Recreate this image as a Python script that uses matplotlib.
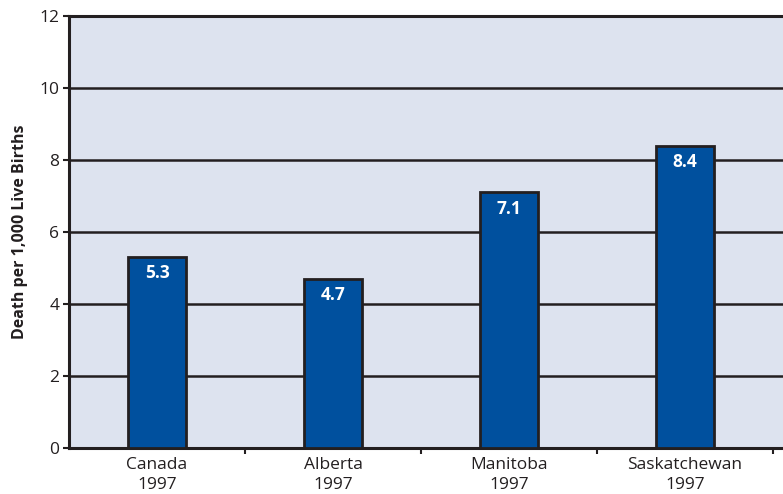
import numpy as np
import matplotlib.pyplot as plt

# infant mortality, deaths per 1,000 live births
regions = ["Canada", "Alberta", "Manitoba", "Saskatchewan"]
years = ["1997", "1997", "1997", "1997"]
rates = [5.3, 4.7, 7.1, 8.4]

plt.rcParams["font.family"] = ["Open Sans", "DejaVu Sans"]

fig = plt.figure(figsize=(7.83, 4.94), dpi=100)
ax = fig.add_axes([69 / 783, 46 / 494, 714 / 783, 432 / 494])
ax.set_facecolor("#dde3ef")

x = np.arange(len(regions))
ax.set_xlim(-0.5, -0.5 + 714 / 176)
ax.set_ylim(0, 12)

ax.set_yticks(np.arange(0, 13, 2))
ax.yaxis.grid(True, color="#231f20", linewidth=1.8)
ax.set_axisbelow(True)

bars = ax.bar(x, rates, width=0.33, color="#00509e",
              edgecolor="#231f20", linewidth=2, zorder=3)
for b, v in zip(bars, rates):
    ax.text(b.get_x() + b.get_width() / 2, v - 0.2, f"{v:.1f}",
            ha="center", va="top", color="white", fontsize=12.5,
            fontweight="bold", zorder=4)

# category boundaries carry the x tick marks; labels sit at bar centres
ax.set_xticks(np.arange(0.5, len(regions), 1.0))
ax.set_xticklabels([])
ax.tick_params(axis="x", length=4, width=1.5, color="#231f20")
for xi, r, y in zip(x, regions, years):
    ax.text(xi, -0.25, f"{r}\n{y}", ha="center", va="top", fontsize=12.5,
            color="#231f20", linespacing=1.35)

ax.tick_params(axis="y", length=4, width=1.5, color="#231f20",
               labelsize=12.5, labelcolor="#231f20", pad=3)

for side in ("left", "top", "bottom"):
    ax.spines[side].set_linewidth(2.2)
    ax.spines[side].set_color("#231f20")
ax.spines["right"].set_visible(False)

ax.set_ylabel("Death per 1,000 Live Births", fontsize=11.5,
              fontweight="bold", color="#231f20", labelpad=8)

fig.savefig("out.png", dpi=100)
plt.close(fig)
